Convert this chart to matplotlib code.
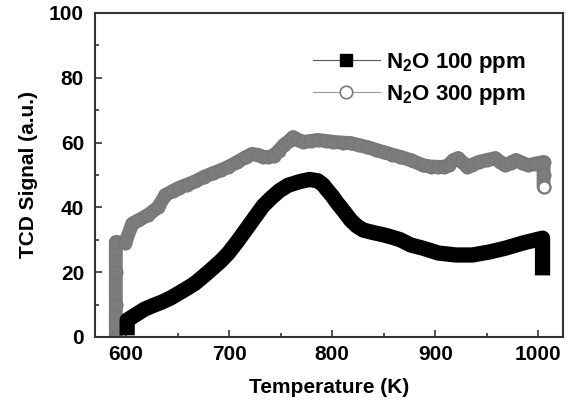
import matplotlib
matplotlib.use("Agg")
import matplotlib.pyplot as plt
from matplotlib.ticker import MultipleLocator

# N2O 100 ppm (black squares)
temp_100 = [601, 601, 610, 618, 627, 635, 643, 651, 659, 667, 676, 684, 692,
            699, 708, 716, 725, 733, 741, 749, 757, 769, 778, 786, 791, 795,
            800, 805, 812, 818, 824, 830, 840, 850, 858, 866, 876, 888, 903,
            920, 936, 952, 968, 985, 1004, 1004]
sig_100 = [0.5, 5.2, 7, 8.6, 9.8, 10.8, 12, 13.5, 15, 16.6, 19, 21.2, 23.5,
           25.8, 29.5, 33, 37, 40.5, 43, 45.2, 46.8, 48, 48.6, 48.2, 47, 45.4,
           43.5, 41.3, 38.5, 36, 34.2, 33, 32.2, 31.5, 30.8, 30, 28.4, 27.4,
           25.9, 25.3, 25.3, 26.2, 27.4, 29, 30.5, 19]

# N2O 300 ppm (grey open circles)
temp_300 = [590, 590, 590, 590, 599, 606, 612, 621, 631, 638, 645, 651, 659,
            667, 676, 684, 692, 699, 708, 716, 722, 728, 733, 738, 743, 748,
            753, 758, 762, 767, 772, 779, 786, 794, 801, 810, 818, 826, 834,
            842, 850, 858, 866, 876, 888, 896, 903, 908, 913, 917, 922, 926,
            931, 936, 942, 950, 958, 963, 968, 973, 978, 984, 990, 997, 1005,
            1005, 1005]
sig_300 = [0, 10, 20, 29.3, 29, 35, 36, 37.6, 40, 43.8, 45, 46, 47, 48, 49.5,
           50.5, 51.5, 52.5, 54, 55.5, 56.5, 56.2, 55.6, 55.5, 56, 57.5, 59.3,
           60.5, 61.7, 60.8, 60.2, 60.5, 60.8, 60.5, 60.2, 60, 59.8, 59.2, 58.6,
           57.8, 57, 56.3, 55.6, 54.6, 53, 52.6, 52.5, 52.5, 53, 54.5, 55.2,
           54, 52.5, 53.2, 54, 54.6, 55.2, 54, 53, 53.8, 54.6, 53.8, 53, 53.5,
           54, 50, 46.3]

labels = ["N$_2$O 100 ppm", "N$_2$O 300 ppm"]

plt.rcParams["font.family"] = ["Liberation Sans", "DejaVu Sans"]
plt.rcParams["font.weight"] = "bold"
plt.rcParams["axes.labelweight"] = "bold"
plt.rcParams["mathtext.fontset"] = "custom"
plt.rcParams["mathtext.rm"] = "Liberation Sans:bold"
plt.rcParams["mathtext.default"] = "rm"

fig = plt.figure(figsize=(5.77, 4.05), dpi=100)
ax = fig.add_axes([0.165, 0.168, 0.811, 0.8])

grey = "#7c7c7c"

# thick bands (dense overlapping markers in the original)
ax.plot(temp_300, sig_300, color=grey, lw=10, solid_capstyle="round",
        solid_joinstyle="round", zorder=2)
ax.plot(temp_300, sig_300, ls="none", marker="o", ms=9.5, mfc=grey,
        mec="#747474", mew=0.6, zorder=2)
ax.plot(temp_300[-1:], sig_300[-1:], ls="none", marker="o", ms=8.5, mfc="white",
        mec=grey, mew=1.5, zorder=3)

ax.plot(temp_100, sig_100, color="black", lw=11, solid_capstyle="butt",
        solid_joinstyle="round", zorder=3)

# legend proxies
h1, = ax.plot([], [], color="#555555", lw=0.8, marker="s", ms=9,
              mfc="black", mec="black", label=labels[0])
h2, = ax.plot([], [], color="#999999", lw=0.8, marker="o", ms=9,
              mfc="white", mec=grey, mew=1.2, label=labels[1])
leg = ax.legend(handles=[h1, h2], loc="center", bbox_to_anchor=(0.693, 0.797),
                frameon=False, numpoints=1, handlelength=3.0, handletextpad=0.3,
                labelspacing=0.35, borderpad=0, fontsize=16)

ax.set_xlim(570, 1024)
ax.set_ylim(0, 100)
ax.xaxis.set_major_locator(MultipleLocator(100))
ax.xaxis.set_minor_locator(MultipleLocator(50))
ax.yaxis.set_major_locator(MultipleLocator(20))
ax.yaxis.set_minor_locator(MultipleLocator(10))
ax.tick_params(which="both", direction="in", top=False, right=False,
               labelsize=15, width=1.2, color="#333333")
ax.tick_params(which="major", length=5)
ax.tick_params(which="minor", length=3)
ax.tick_params(axis="x", pad=6)
ax.tick_params(axis="y", pad=8)
for sp in ax.spines.values():
    sp.set_linewidth(1.5)
    sp.set_color("#333333")

ax.set_xlabel("Temperature (K)", fontsize=15, fontweight="bold", labelpad=10)
ax.set_ylabel("TCD Signal (a.u.)", fontsize=15, fontweight="bold", labelpad=8)

fig.savefig("out.png", dpi=100)
